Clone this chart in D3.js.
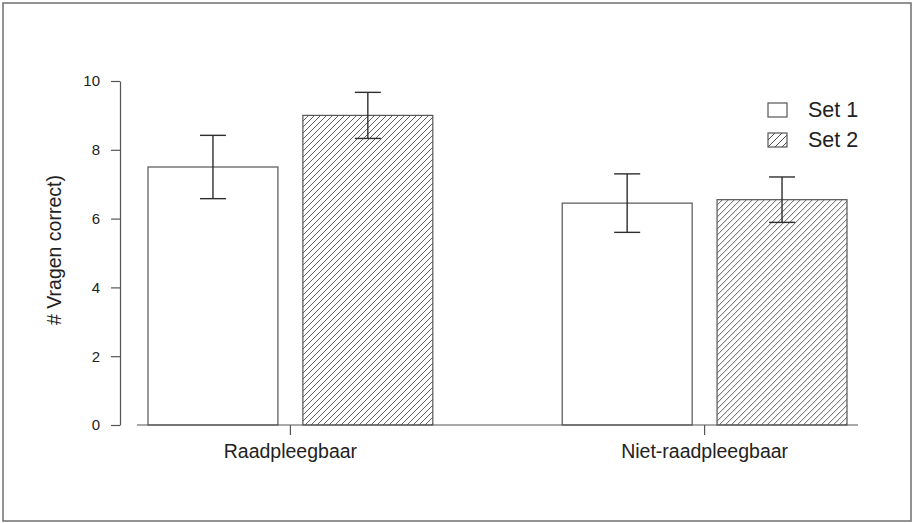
<!DOCTYPE html>
<html>
<head>
<meta charset="utf-8">
<script src="https://cdn.jsdelivr.net/npm/d3@7"></script>
<style>
  html, body { margin: 0; padding: 0; background: #fff; }
  svg text { font-family: "Liberation Sans", Arial, sans-serif; fill: #222; }
</style>
</head>
<body>
<svg id="chart" width="914" height="523"></svg>
<script>
// Mean number of correct questions per condition and question set, with error bars
const categories = ["Raadpleegbaar", "Niet-raadpleegbaar"];
const seriesNames = ["Set 1", "Set 2"];
const set1Means = [7.5, 6.45];
const set2Means = [9.0, 6.55];
const set1Errors = [0.92, 0.85];
const set2Errors = [0.67, 0.66];
const yTicks = [0, 2, 4, 6, 8, 10];
const yLabel = "# Vragen correct)";

const svg = d3.select("#chart");

// outer frame
svg.append("rect")
  .attr("x", 3).attr("y", 3).attr("width", 908).attr("height", 518)
  .attr("fill", "none").attr("stroke", "#6f6f6f").attr("stroke-width", 1.5);

// diagonal hatching for the second set
const defs = svg.append("defs");
const pat = defs.append("pattern")
  .attr("id", "hatch")
  .attr("patternUnits", "userSpaceOnUse")
  .attr("width", 6).attr("height", 6);
pat.append("path")
  .attr("d", "M-1,1 l2,-2 M0,6 l6,-6 M5,7 l2,-2")
  .attr("stroke", "#3a3a3a").attr("stroke-width", 0.8);

// sparser hatching for the legend key
const patKey = defs.append("pattern")
  .attr("id", "hatchKey")
  .attr("patternUnits", "userSpaceOnUse")
  .attr("width", 7).attr("height", 7);
patKey.append("path")
  .attr("d", "M-1,1 l2,-2 M0,7 l7,-7 M6,8 l2,-2")
  .attr("stroke", "#3a3a3a").attr("stroke-width", 0.9);

const y = d3.scaleLinear().domain([0, 10]).range([425, 81]);
const x0 = d3.scaleBand().domain(categories).range([148, 847]).paddingInner(0.3124).paddingOuter(0);
const x1 = d3.scaleBand().domain(seriesNames).range([0, x0.bandwidth()]).paddingInner(0.161).paddingOuter(0);

const rows = categories.map((c, i) => ({
  cat: c,
  bars: [
    { s: "Set 1", v: set1Means[i], e: set1Errors[i] },
    { s: "Set 2", v: set2Means[i], e: set2Errors[i] }
  ]
}));

const groups = svg.append("g").selectAll("g").data(rows).join("g")
  .attr("transform", d => `translate(${x0(d.cat)},0)`);

groups.selectAll("rect").data(d => d.bars).join("rect")
  .attr("x", d => x1(d.s))
  .attr("y", d => y(d.v))
  .attr("width", x1.bandwidth())
  .attr("height", d => y(0) - y(d.v))
  .attr("fill", d => d.s === "Set 1" ? "#fff" : "url(#hatch)")
  .attr("stroke", "#555").attr("stroke-width", 1.2);

// error bars
const eb = groups.selectAll("g.err").data(d => d.bars).join("g").attr("class", "err")
  .attr("stroke", "#2e2e2e").attr("stroke-width", 1.4);
eb.append("line")
  .attr("x1", d => x1(d.s) + x1.bandwidth() / 2).attr("x2", d => x1(d.s) + x1.bandwidth() / 2)
  .attr("y1", d => y(d.v + d.e)).attr("y2", d => y(d.v - d.e));
eb.append("line")
  .attr("x1", d => x1(d.s) + x1.bandwidth() / 2 - 13).attr("x2", d => x1(d.s) + x1.bandwidth() / 2 + 13)
  .attr("y1", d => y(d.v + d.e)).attr("y2", d => y(d.v + d.e));
eb.append("line")
  .attr("x1", d => x1(d.s) + x1.bandwidth() / 2 - 13).attr("x2", d => x1(d.s) + x1.bandwidth() / 2 + 13)
  .attr("y1", d => y(d.v - d.e)).attr("y2", d => y(d.v - d.e));

// y axis
const yAxis = svg.append("g").attr("transform", "translate(120,0)")
  .call(d3.axisLeft(y).tickValues(yTicks).tickSize(9).tickPadding(11).tickSizeOuter(0));
yAxis.select(".domain").attr("stroke", "#555").attr("stroke-width", 1.2);
yAxis.selectAll(".tick line").attr("stroke", "#555").attr("stroke-width", 1.2);
yAxis.selectAll(".tick text").attr("font-size", 15).attr("fill", "#222")
  .style("font-family", "'Liberation Sans', Arial, sans-serif");

// x axis: baseline across the bars with a tick under each group
svg.append("line")
  .attr("x1", 137).attr("x2", 858).attr("y1", y(0)).attr("y2", y(0))
  .attr("stroke", "#555").attr("stroke-width", 1.2);
const xAxis = svg.append("g").attr("transform", `translate(0,${y(0)})`)
  .call(d3.axisBottom(x0).tickSize(10).tickPadding(9).tickSizeOuter(0));
xAxis.select(".domain").remove();
xAxis.selectAll(".tick line").attr("stroke", "#555").attr("stroke-width", 1.2);
xAxis.selectAll(".tick text").attr("font-size", 19.5).attr("fill", "#222")
  .style("font-family", "'Liberation Sans', Arial, sans-serif");

// y axis title
svg.append("text")
  .attr("transform", "translate(61,250) rotate(-90)")
  .attr("text-anchor", "middle")
  .attr("font-size", 19.5)
  .text(yLabel);

// legend
const legend = svg.append("g").selectAll("g").data(seriesNames).join("g")
  .attr("transform", (d, i) => `translate(768,${103 + i * 30})`);
legend.append("rect")
  .attr("width", 19).attr("height", 14)
  .attr("fill", d => d === "Set 1" ? "#fff" : "url(#hatchKey)")
  .attr("stroke", "#555").attr("stroke-width", 1.2);
legend.append("text")
  .attr("x", 40).attr("y", 14)
  .attr("font-size", 21.5)
  .text(d => d);
</script>
</body>
</html>
